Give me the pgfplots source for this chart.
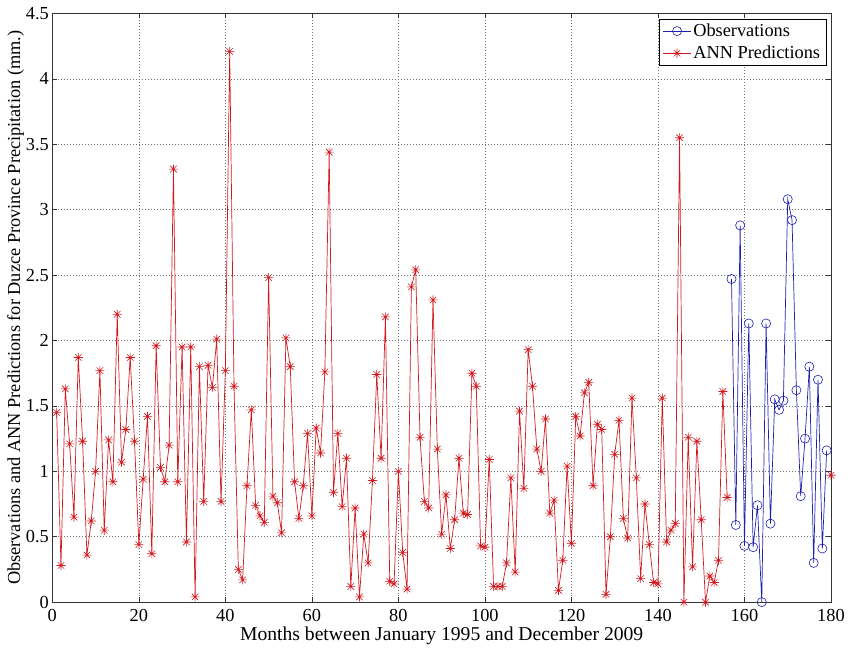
\documentclass[border=0pt]{standalone}
\usepackage{pgfplots}
\pgfplotsset{compat=1.18}
\usepackage{pgfplotstable}
\usepackage{fontspec}
\setmainfont{Liberation Serif}

\definecolor{obsblue}{RGB}{30,30,175}
\definecolor{annred}{RGB}{210,25,30}

% MATLAB style 8-arm asterisk
\pgfdeclareplotmark{mstar}{%
  \pgfpathmoveto{\pgfqpoint{-\pgfplotmarksize}{0pt}}\pgfpathlineto{\pgfqpoint{\pgfplotmarksize}{0pt}}%
  \pgfpathmoveto{\pgfqpoint{0pt}{-\pgfplotmarksize}}\pgfpathlineto{\pgfqpoint{0pt}{\pgfplotmarksize}}%
  \pgfpathmoveto{\pgfqpoint{-.707\pgfplotmarksize}{-.707\pgfplotmarksize}}\pgfpathlineto{\pgfqpoint{.707\pgfplotmarksize}{.707\pgfplotmarksize}}%
  \pgfpathmoveto{\pgfqpoint{-.707\pgfplotmarksize}{.707\pgfplotmarksize}}\pgfpathlineto{\pgfqpoint{.707\pgfplotmarksize}{-.707\pgfplotmarksize}}%
  \pgfusepathqstroke}

\pgfplotstableread{
month value
1 1.45
2 0.28
3 1.63
4 1.21
5 0.65
6 1.87
7 1.23
8 0.36
9 0.62
10 1.00
11 1.77
12 0.55
13 1.24
14 0.92
15 2.20
16 1.07
17 1.32
18 1.87
19 1.23
20 0.44
21 0.94
22 1.42
23 0.37
24 1.96
25 1.03
26 0.92
27 1.20
28 3.31
29 0.92
30 1.95
31 0.46
32 1.95
33 0.04
34 1.80
35 0.77
36 1.81
37 1.64
38 2.01
39 0.77
40 1.77
41 4.21
42 1.65
43 0.25
44 0.17
45 0.89
46 1.47
47 0.74
48 0.66
49 0.61
50 2.48
51 0.81
52 0.76
53 0.53
54 2.02
55 1.80
56 0.92
57 0.64
58 0.89
59 1.29
60 0.66
61 1.33
62 1.14
63 1.76
64 3.44
65 0.84
66 1.29
67 0.73
68 1.10
69 0.12
70 0.72
71 0.04
72 0.52
73 0.30
74 0.93
75 1.74
76 1.10
77 2.18
78 0.16
79 0.14
80 1.00
81 0.38
82 0.10
83 2.41
84 2.54
85 1.26
86 0.77
87 0.72
88 2.31
89 1.17
90 0.52
91 0.82
92 0.41
93 0.63
94 1.10
95 0.68
96 0.67
97 1.75
98 1.65
99 0.43
100 0.42
101 1.09
102 0.12
103 0.12
104 0.12
105 0.30
106 0.95
107 0.23
108 1.46
109 0.87
110 1.93
111 1.65
112 1.17
113 1.00
114 1.40
115 0.68
116 0.78
117 0.09
118 0.32
119 1.04
120 0.45
121 1.42
122 1.27
123 1.60
124 1.68
125 0.89
126 1.36
127 1.32
128 0.06
129 0.50
130 1.13
131 1.39
132 0.64
133 0.49
134 1.56
135 0.95
136 0.18
137 0.75
138 0.44
139 0.15
140 0.14
141 1.56
142 0.46
143 0.55
144 0.60
145 3.55
146 0.00
147 1.26
148 0.27
149 1.23
150 0.63
151 0.00
152 0.20
153 0.15
154 0.32
155 1.61
156 0.80
157 nan
180 0.97
}\anntable

\pgfplotstableread{
month value
157 2.47
158 0.59
159 2.88
160 0.43
161 2.13
162 0.42
163 0.74
164 0.00
165 2.13
166 0.60
167 1.55
168 1.47
169 1.54
170 3.08
171 2.92
172 1.62
173 0.81
174 1.25
175 1.80
176 0.30
177 1.70
178 0.41
179 1.16
}\obstable

\begin{document}
\begin{tikzpicture}
\begin{axis}[
  scale only axis,
  width=783bp, height=592bp,
  xmin=0, xmax=180, ymin=0, ymax=4.5,
  xtick={0,20,40,60,80,100,120,140,160,180},
  ytick={0,0.5,1,1.5,2,2.5,3,3.5,4,4.5},
  grid=major,
  major grid style={black!55, line width=0.5bp, dash pattern=on 0.7bp off 2.3bp},
  tick align=inside,
  major tick length=5bp,
  tick style={black!80, line width=0.6bp},
  axis line style={black!80, line width=0.6bp},
  /pgf/number format/assume math mode=true,
  font=\fontsize{18.5}{21}\selectfont,
  xticklabel style={yshift=-4bp},
  xlabel={Months between January 1995 and December 2009},
  ylabel={Observations and ANN Predictions for Duzce Province Precipitation (mm.)},
  xlabel style={yshift=2bp, font=\fontsize{19.8}{22}\selectfont},
  ylabel style={yshift=-5bp},
  unbounded coords=jump,
  legend cell align=left,
  legend style={at={(rel axis cs:0.994,0.991)}, anchor=north east,
    draw=black, fill=white, line width=0.6bp, row sep=4bp,
    inner xsep=4bp, inner ysep=3bp,
    font=\fontsize{18.5}{21}\selectfont},
  legend image code/.code={\draw[mark repeat=2,mark phase=2]
    plot coordinates {(0bp,0bp)(14bp,0bp)(28bp,0bp)};},
]
\addplot[color=obsblue, line width=0.7bp, mark=o, mark size=4.6bp,
  mark options={line width=0.6bp}] table[x=month, y=value] {\obstable};
\addlegendentry{Observations}
\addplot[color=annred, line width=0.7bp, mark=mstar, mark size=4.6bp,
  mark options={line width=0.6bp}] table[x=month, y=value] {\anntable};
\addlegendentry{ANN Predictions}
\end{axis}
\path (current bounding box.south west) ++(-4bp,-4bp);
\path (current bounding box.north east) ++(5bp,4bp);
\end{tikzpicture}
\end{document}
